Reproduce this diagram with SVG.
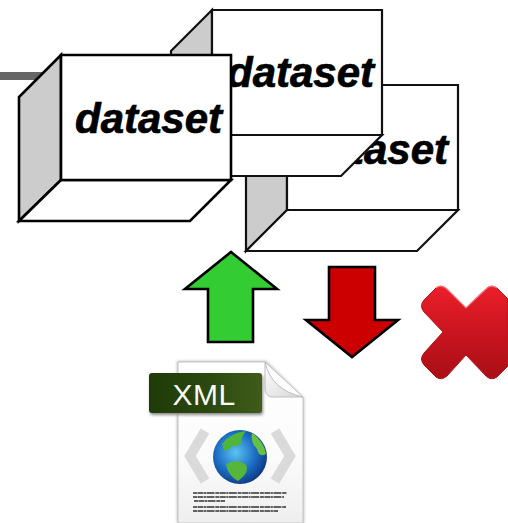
<svg xmlns="http://www.w3.org/2000/svg" width="508" height="523" viewBox="0 0 508 523">
<style>
.front,.bottom{fill:#fff}
.side{fill:#ccc}
.box path{stroke:#111;stroke-width:2.2;stroke-linejoin:miter}
#box1 path{stroke:#000;stroke-width:2.6}
.lbl{font-family:"Liberation Sans",Arial,sans-serif;font-weight:bold;font-style:italic;font-size:42px;fill:#000;stroke:#000;stroke-width:.7}
.arrow{stroke:#000;stroke-width:2.6;stroke-linejoin:miter}
.tiny{stroke:#333;stroke-width:1.3;stroke-dasharray:4 .5 6 .5 2 .5 8 .8;filter:url(#soft)}
</style>
<defs>
<linearGradient id="xfill" x1="0" y1="0" x2="0" y2="1"><stop offset="0" stop-color="#ec1f2a"/><stop offset=".5" stop-color="#c9141f"/><stop offset="1" stop-color="#a80f16"/></linearGradient>
<linearGradient id="page" x1="0" y1="0" x2="0" y2="1"><stop offset="0" stop-color="#fff"/><stop offset=".6" stop-color="#fbfbfb"/><stop offset="1" stop-color="#eee"/></linearGradient>
<linearGradient id="tag" x1="0" y1="0" x2="1" y2="0"><stop offset="0" stop-color="#1f3a08"/><stop offset=".5" stop-color="#2a480e"/><stop offset="1" stop-color="#3f5c1a"/></linearGradient>
<linearGradient id="fold" x1="0" y1="0" x2="1" y2="1"><stop offset="0" stop-color="#fff"/><stop offset="1" stop-color="#d6d6d6"/></linearGradient>
<radialGradient id="ocean" cx=".42" cy=".42" r=".68"><stop offset="0" stop-color="#5cc4f2"/><stop offset=".55" stop-color="#1a6cc2"/><stop offset="1" stop-color="#0a2a72"/></radialGradient>
<filter id="soft" x="-5%" y="-5%" width="110%" height="110%"><feGaussianBlur stdDeviation="0.4"/></filter>
<filter id="shadow" x="-10%" y="-10%" width="120%" height="125%"><feGaussianBlur stdDeviation="1.5"/></filter>
</defs>

<rect id="bar" x="0" y="72" width="46" height="8" fill="#666"/>

<g id="box3" class="box">
<path class="side" d="M287 85L246 126V251L287 210Z"/>
<path class="bottom" d="M246 251H417L458 210H287Z"/>
<path class="front" d="M287 85H458V210H287Z"/>
<text class="lbl" x="301" y="164">dataset</text>
</g>
<g id="box2" class="box">
<path class="side" d="M212 10L171 51V176L212 135Z"/>
<path class="bottom" d="M171 176H341L382 135H212Z"/>
<path class="front" d="M212 10H382V135H212Z"/>
<text class="lbl" x="227" y="87">dataset</text>
</g>
<g id="box1" class="box">
<path class="side" d="M61 55L19 97V221L61 180Z"/>
<path class="bottom" d="M19 221H190L231 180H61Z"/>
<path class="front" d="M61 55H231V180H61Z"/>
<text class="lbl" x="75" y="133">dataset</text>
</g>

<g id="connectors">
<path id="up" class="arrow" fill="#33cc33" d="M231 252L277 289H253V342H208V289H185Z"/>
<path id="down" class="arrow" fill="#cc0000" d="M329 267H375V320H398L352 357L306 320H329Z"/>
</g>

<g id="cross">
<path fill="url(#xfill)" stroke="#b8141c" stroke-width="1" stroke-linejoin="round" d="M466 308L447 289Q441 284 436 288L424 300Q419 306 424 312L443 332L424 353Q419 359 424 365L436 377Q441 381 447 376L466 355L486 376Q491 381 497 377L508 366V299L497 288Q491 284 486 289Z"/>
<path fill="none" stroke="#f0777c" stroke-width="1.2" d="M436 288Q441 284 447 289L466 308L486 289Q491 284 497 288"/>
</g>

<g id="xmlfile">
<path fill="#bbb" filter="url(#shadow)" d="M177 361H266L304 398V523H177Z"/>
<path fill="url(#page)" stroke="#c4c4c4" stroke-width="1" d="M178 362H265L303 397V523H178Z"/>
<path fill="url(#fold)" stroke="#bdbdbd" stroke-width="1" d="M265 362Q271 390 303 397Q272 397 272 397Q265 396 265 388Z"/>
<rect x="150" y="375" width="113" height="40" rx="3" fill="#888" filter="url(#shadow)"/>
<rect x="149" y="373" width="113" height="40" rx="3" fill="url(#tag)"/>
<text x="204" y="405" text-anchor="middle" font-family="'Liberation Sans',Arial,sans-serif" font-size="30" letter-spacing=".5" fill="#fafaf4">XML</text>
<path d="M205 431L190 456L205 481" fill="none" stroke="#dadada" stroke-width="10"/>
<path d="M275 431L290 456L275 481" fill="none" stroke="#dadada" stroke-width="10"/>
<circle cx="240" cy="457" r="27" fill="url(#ocean)"/>
<path fill="#4fb53a" filter="url(#soft)" d="M222 444Q230 433 246 431Q240 438 242 443Q236 447 232 446Q228 452 224 450Z"/>
<path fill="#66c043" filter="url(#soft)" d="M252 433Q264 441 266 454Q259 458 257 449Q250 442 252 433Z"/>
<path fill="#57b53a" filter="url(#soft)" d="M226 464Q238 458 246 465Q250 472 238 481Q228 476 226 464Z"/>
<path class="tiny" d="M193 493H287M193 497H284M194 501H225M193 507H286M193 511H278"/>
</g>
</svg>
